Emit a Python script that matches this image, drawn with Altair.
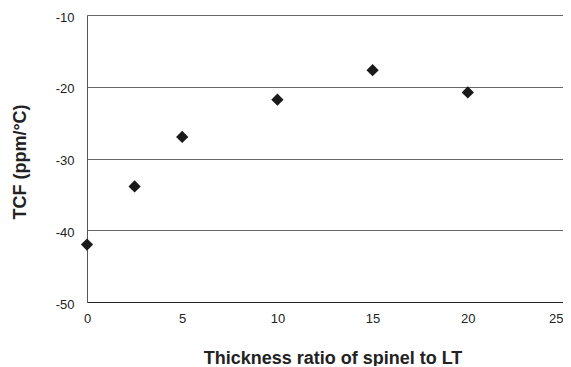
import altair as alt
import pandas as pd

ratio = [0, 2.5, 5, 10, 15, 20]
tcf = [-42.0, -33.9, -27.0, -21.8, -17.7, -20.8]

df = pd.DataFrame({"ratio": ratio, "tcf": tcf})

FONT = "Liberation Sans"

chart = alt.Chart(df).mark_point(
    shape="diamond", filled=True, color="#1a1a1a", size=150, opacity=1
).encode(
    x=alt.X("ratio:Q",
            scale=alt.Scale(domain=[0, 25], nice=False, zero=False),
            axis=alt.Axis(title="Thickness ratio of spinel to LT",
                          values=[0, 5, 10, 15, 20, 25], grid=False,
                          ticks=False, tickSize=0, labelPadding=10,
                          labelFlush=False,
                          labelAlign={"expr": "datum.value == 25 ? 'right' : 'center'"},
                          labelFontSize=13, labelFont=FONT, labelColor="#222",
                          domainColor="#222", domainWidth=1,
                          titleFont=FONT, titleFontSize=18, titleFontWeight="bold",
                          titleColor="#222", titleX=245.5, titleY=61,
                          titleBaseline="alphabetic", titleAlign="center")),
    y=alt.Y("tcf:Q",
            scale=alt.Scale(domain=[-50, -10], nice=False, zero=False),
            axis=alt.Axis(title="TCF (ppm/°C)",
                          values=[-50, -40, -30, -20, -10], grid=True,
                          labelExpr="'' + datum.value",
                          labelFlush=False,
                          gridColor="#666", gridWidth=1,
                          ticks=False, tickSize=0, labelPadding=13, labelOffset=2,
                          labelFontSize=13, labelFont=FONT, labelColor="#222",
                          domainColor="#555", domainWidth=1,
                          titleFont=FONT, titleFontSize=18, titleFontWeight="bold",
                          titleColor="#222", titleX=-62, titleY=146.5,
                          titleAngle=-90, titleBaseline="alphabetic",
                          titleAlign="center")),
).properties(
    width=476, height=287,
    autosize=alt.AutoSizeParams(type="none"),
    padding={"left": 79, "top": 7, "right": 0, "bottom": 64},
).configure_view(
    stroke="#444", strokeWidth=1
).configure(background="white")

chart.save("out.html", embed_options={"renderer": "svg", "actions": False})
